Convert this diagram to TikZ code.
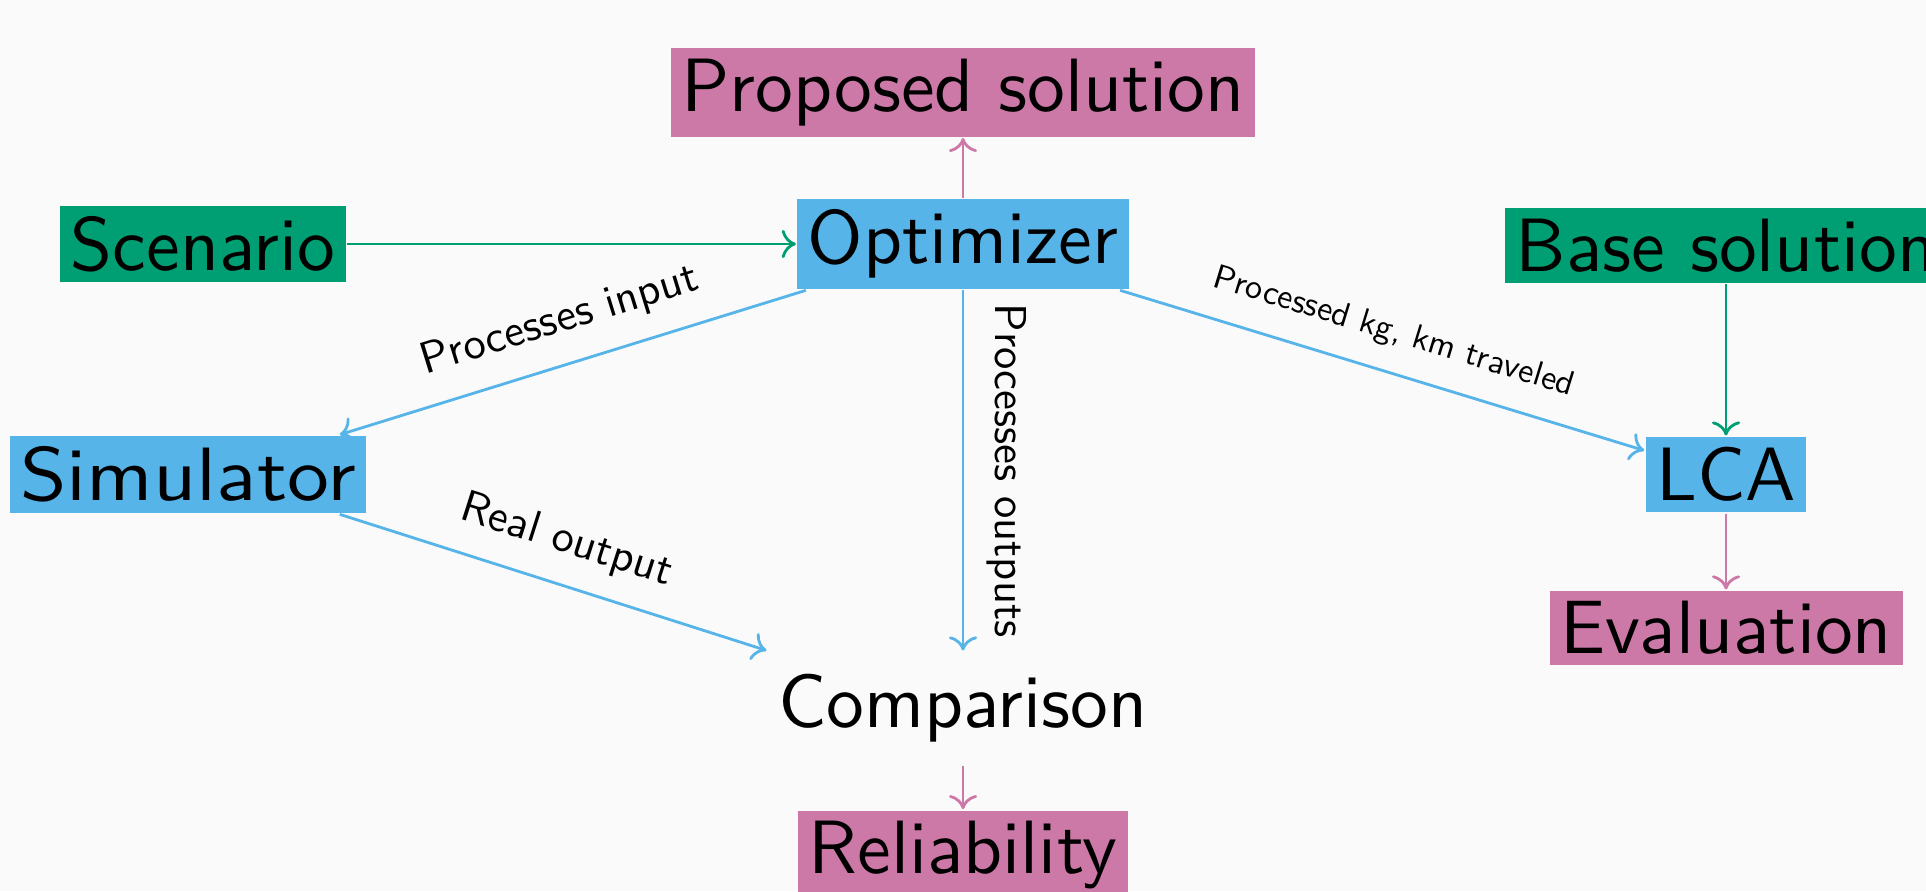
\documentclass[tikz,border=0pt]{standalone}
\usepackage{fontspec}
\setsansfont{lmsans10-regular.otf}
\newfontfamily\widesans{lmsans10-regular.otf}[FakeStretch=1.11]
\usetikzlibrary{positioning,arrows.meta}
\definecolor{okgreen}{HTML}{009E73}
\definecolor{okblue}{HTML}{56B4E9}
\definecolor{okpink}{HTML}{CC79A7}
\definecolor{paper}{HTML}{FAFAFA}
\begin{document}
\begin{tikzpicture}[-{To[length=4pt,width=8pt]}, node distance = 2.3cm and 7.6cm, on grid, line width=0.8pt,
box/.style={inner sep=3pt, text=black, font=\sffamily\fontsize{21.5}{26}\selectfont},
gbox/.style={box, fill=okgreen}, bbox/.style={box, fill=okblue}, pbox/.style={box, fill=okpink},
lab/.style={sloped, above=3pt, text=black, font=\sffamily\fontsize{12.7}{15}\selectfont}]
\useasboundingbox (0,0) rectangle (19.26,8.91);
\clip (0,0) rectangle (19.26,8.91);
\fill[paper] (0,0) rectangle (19.26,8.91);
\node[bbox] (opt) at (9.63,6.47) {Optimizer};
\node[pbox] (prop) [above = 1.515cm of opt] {Proposed solution};
\node[gbox] (scen) [left = of opt] {Scenario};
\node[bbox, font=\widesans\fontsize{21.5}{26}\selectfont] (sim) [below left = 2.305cm and 7.75cm of opt] {Simulator};
\node[bbox] (lca) [below right = 2.305cm and 7.63cm of opt] {LCA};
\node[gbox] (base) [above = 2.29cm of lca] {Base solution};
\node[pbox] (eval) [below = 1.535cm of lca] {Evaluation};
\node[box, inner ysep=6.3pt] (comp) [below = 4.64cm of opt] {Comparison};
\node[pbox] (rel) [below = 1.47cm of comp] {Reliability};
\draw[okpink] (opt) -- (prop);
\draw[okgreen] (scen) -- (opt);
\draw[okgreen] (base) -- (lca);
\draw[okpink] (lca) -- (eval);
\draw[okpink] (comp) -- (rel);
\draw[okblue] ([xshift=1mm]opt.south west) -- node[lab] {Processes input} ([xshift=-2.8mm]sim.north east);
\draw[okblue] ([xshift=-2.8mm]sim.south east) -- node[lab] {Real output} (comp.north west);
\draw[okblue] (opt) -- node[lab] {Processes outputs} (comp);
\draw[okblue] ([xshift=-1mm]opt.south east) -- node[lab, font=\sffamily\fontsize{9.75}{12}\selectfont] {Processed kg, km traveled} ([yshift=-1.5mm]lca.north west);
\end{tikzpicture}
\end{document}
